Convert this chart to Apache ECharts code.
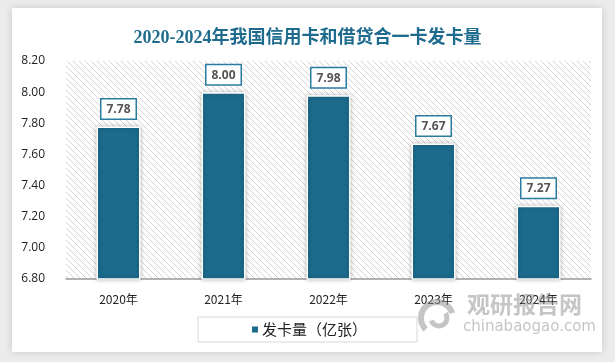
<!DOCTYPE html>
<html><head><meta charset="utf-8">
<script src="https://cdn.jsdelivr.net/npm/echarts@6/dist/echarts.min.js"></script>
<style>html,body{margin:0;padding:0;background:#ececec;}#c{width:615px;height:362px;}</style>
</head><body><div id="c"></div>
<script>
var categories = ['2020年','2021年','2022年','2023年','2024年'];
var values = [7.78, 8.00, 7.98, 7.67, 7.27];
var seriesName = '发卡量（亿张）';
var titleText = '2020-2024年我国信用卡和借贷合一卡发卡量';

var pc = document.createElement('canvas');
pc.width = 6; pc.height = 6;
var ctx = pc.getContext('2d');
ctx.fillStyle = '#ffffff'; ctx.fillRect(0,0,6,6);
ctx.strokeStyle = '#d4d4d4'; ctx.lineWidth = 1;
ctx.beginPath();
ctx.moveTo(0,0); ctx.lineTo(6,6);
ctx.moveTo(-3,3); ctx.lineTo(3,9);
ctx.moveTo(3,-3); ctx.lineTo(9,3);
ctx.stroke();

var wm = 'rgba(140,140,140,0.5)';
var chart = echarts.init(document.getElementById('c'));
chart.setOption({
  animation: false,
  backgroundColor: '#ececec',
  graphic: [
    {type:'rect', shape:{x:12,y:8,width:590,height:344}, style:{fill:'#ffffff', shadowBlur:8, shadowColor:'rgba(0,0,0,0.15)'}, z:-10},
    {type:'arc', shape:{cx:437, cy:318, r:16, startAngle:Math.PI*0.75, endAngle:Math.PI*1.9}, style:{stroke:wm, lineWidth:6, fill:null}, z:5},
    {type:'arc', shape:{cx:439, cy:318, r:8, startAngle:-Math.PI*0.2, endAngle:Math.PI*0.9}, style:{stroke:wm, lineWidth:5, fill:null}, z:5},
    {type:'text', left:467, top:293, style:{text:'观研报告网', font:'bold 23px "Noto Sans CJK SC"', fill:wm}, z:5},
    {type:'text', left:463, top:320, style:{text:'chinabaogao.com', font:'15px "DejaVu Sans"', fill:wm}, z:5}
  ],
  title: {
    text: titleText, left: 'center', top: 24,
    textStyle: {color:'#1f6b8e', fontSize:18, fontWeight:'bold', fontFamily:'"Liberation Serif","Noto Sans CJK SC",serif'}
  },
  legend: {
    data: [seriesName], bottom: 20, left: 198,
    itemWidth: 8, itemHeight: 8, icon: 'rect', itemGap: 4,
    borderColor: '#d8d8d8', borderWidth: 1, padding: [5, 50, 5, 52],
    textStyle: {color:'#222', fontSize:15, fontFamily:'"Noto Sans CJK SC"', padding:[0,0,0,-2]}
  },
  grid: {left:66, right:24, top:61, bottom:83, show:true, borderWidth:0,
    backgroundColor: {image: pc, repeat: 'repeat'}},
  xAxis: {
    type:'category', data: categories,
    axisLine:{lineStyle:{color:'#999', width:1.5}}, axisTick:{show:false},
    axisLabel:{color:'#222', fontSize:12, margin:14, fontFamily:'"Noto Sans CJK SC"'}
  },
  yAxis: {
    type:'value', min:6.8, max:8.2, interval:0.2,
    splitLine:{show:false}, axisLine:{show:false}, axisTick:{show:false},
    axisLabel:{color:'#222', fontSize:12, margin:21, formatter:function(v){return v.toFixed(2);}, fontFamily:'"Open Sans","DejaVu Sans"'}
  },
  series: [{
    name: seriesName, type:'bar', data: values, barWidth: 44,
    itemStyle:{color:'#1c6a8c', borderColor:'#ffffff', borderWidth:1.5, shadowBlur:4, shadowColor:'rgba(0,0,0,0.25)'},
    label:{show:true, position:'top', distance:8, formatter:function(p){return p.value.toFixed(2);},
      color:'#555', fontWeight:'bold', fontSize:12, backgroundColor:'#fff', borderColor:'#2b7aa0', borderWidth:1.5,
      padding:[4,5,3,5], fontFamily:'"Open Sans","DejaVu Sans"'}
  }]
});
</script></body></html>
